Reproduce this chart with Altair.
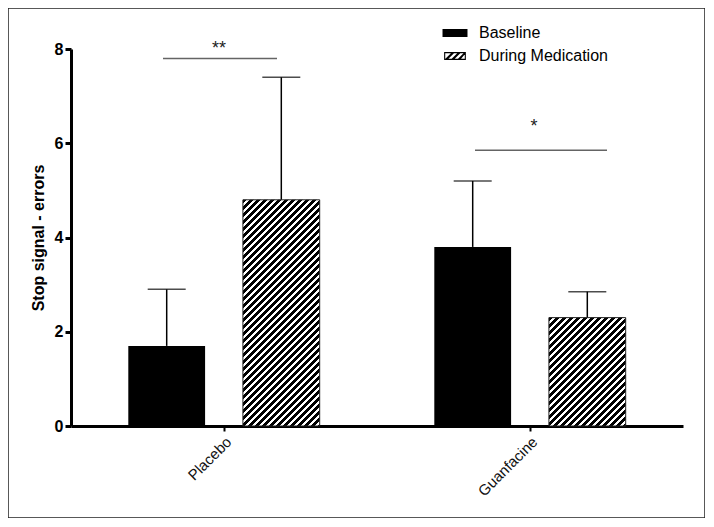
import altair as alt
import pandas as pd

groups = ["Placebo", "Guanfacine"]
series = ["Baseline", "During Medication"]
mean_baseline = [1.7, 3.8]
mean_during = [4.8, 2.3]
err_baseline = [1.2, 1.4]
err_during = [2.6, 0.55]
sig_labels = ["**", "*"]
sig_line_y = [7.8, 5.85]
sig_text_y = [7.99, 6.35]

rows = []
for i, g in enumerate(groups):
    rows.append({"group": g, "series": series[0], "value": mean_baseline[i],
                 "upper": mean_baseline[i] + err_baseline[i]})
    rows.append({"group": g, "series": series[1], "value": mean_during[i],
                 "upper": mean_during[i] + err_during[i]})
df = pd.DataFrame(rows)
sig_df = pd.DataFrame({"group": groups, "label": sig_labels,
                       "line_y": sig_line_y, "text_y": sig_text_y})

# layout (view = framed box)
W, H = 697, 510
Y_RANGE = [418, 41]
X_RANGE = [63, 675]
px_per_unit = (Y_RANGE[0] - Y_RANGE[1]) / 8.0
P_INNER, P_OUTER = 0.33, 0.5
band = (X_RANGE[1] - X_RANGE[0]) / len(groups)
step = band / (len(series) - P_INNER + 2 * P_OUTER)
bar_w = step * (1 - P_INNER)

def hatch(value, period=7.0):
    w = bar_w
    h = value * px_per_unit
    k = (w + h) / (w * w + h * h)
    n = (w + h) / period
    stops = []
    i = 0
    while i < n + 1:
        a = min(i / n, 1.0)
        b = min((i + 0.55) / n, 1.0)
        c = min((i + 1) / n, 1.0)
        stops += [{"offset": a, "color": "black"}, {"offset": b, "color": "black"},
                  {"offset": b, "color": "white"}, {"offset": c, "color": "white"}]
        i += 1
    return {"gradient": "linear", "x1": 0, "y1": 0, "x2": k * w, "y2": k * h,
            "stops": stops}

x_enc = alt.X("group:N", sort=groups, title=None,
              scale=alt.Scale(domain=groups, range=X_RANGE, paddingInner=0, paddingOuter=0),
              axis=alt.Axis(offset=-92, domainWidth=3, domainColor="black",
                            tickSize=5, tickWidth=2, tickColor="black",
                            labelAngle=-45, labelAlign="right", labelBaseline="top",
                            labelFont="Liberation Sans", labelFontSize=15,
                            labelColor="#111", labelPadding=3, grid=False))
xo_enc = alt.XOffset("series:N", sort=series,
                     scale=alt.Scale(domain=series, paddingInner=P_INNER, paddingOuter=P_OUTER))
y_scale = alt.Scale(domain=[0, 8], range=Y_RANGE, nice=False, zero=True)
y_axis = alt.Axis(values=[0, 2, 4, 6, 8], offset=-63, domainWidth=3, domainColor="black",
                  tickWidth=3, tickSize=6, tickColor="black",
                  labelFont="Liberation Sans", labelFontWeight="bold", labelFontSize=16,
                  labelColor="black", labelPadding=2, grid=False,
                  title="Stop signal - errors", titleFont="Liberation Sans",
                  titleFontWeight="bold", titleFontSize=16, titleColor="black",
                  titlePadding=8)
y_enc = alt.Y("value:Q", scale=y_scale, axis=y_axis)

base = alt.Chart(df)

sq = "M-1.15,-0.37H1.15V0.37H-1.15Z"
hatch_path = ("M-1.0,-0.37H1.0V0.37H-1.0Z"
              "M-0.9,-0.26V0.26H0.9V-0.26Z"
              "M-1.0,0.37L-0.26,-0.37H0.02L-0.72,0.37Z"
              "M-0.42,0.37L0.32,-0.37H0.6L-0.14,0.37Z"
              "M0.16,0.37L0.9,-0.37H1.0V-0.27L0.46,0.37Z")

legend_pts = base.mark_point(filled=True, color="black", opacity=0).encode(
    x=x_enc, xOffset=xo_enc, y=y_enc,
    shape=alt.Shape("series:N", sort=series,
                    scale=alt.Scale(domain=series, range=[sq, hatch_path]),
                    legend=alt.Legend(title=None, orient="none", legendX=436, legendY=14,
                                      symbolSize=472, symbolFillColor="black",
                                      symbolStrokeWidth=0, symbolOpacity=1,
                                      labelFont="Liberation Sans", labelFontSize=16,
                                      labelColor="black", labelOffset=13,
                                      rowPadding=4, padding=0)),
)

err_rule = base.mark_rule(color="black", strokeWidth=1.5).encode(
    x=x_enc, xOffset=xo_enc, y=y_enc, y2="upper:Q")
err_cap = base.mark_tick(color="black", thickness=1.5, size=38).encode(
    x=x_enc, xOffset=xo_enc, y=alt.Y("upper:Q", scale=y_scale, axis=y_axis))

bars_base = base.transform_filter(alt.datum.series == series[0]).mark_bar(
    color="black").encode(x=x_enc, xOffset=xo_enc, y=y_enc)

hatched = []
for i, g in enumerate(groups):
    hatched.append(
        base.transform_filter((alt.datum.series == series[1]) & (alt.datum.group == g))
        .mark_bar(fill=hatch(mean_during[i]), stroke="#222", strokeWidth=1)
        .encode(x=x_enc, xOffset=xo_enc, y=y_enc))

sig_base = alt.Chart(sig_df)
sig_lines = []
for g, sz, off in [(groups[0], 114, -4), (groups[1], 132, 11)]:
    sig_lines.append(
        sig_base.transform_filter(alt.datum.group == g)
        .mark_tick(color="#222", thickness=1.5, size=sz, xOffset=off)
        .encode(x=x_enc, y=alt.Y("line_y:Q", scale=y_scale, axis=y_axis)))
sig_text = []
for g, off in [(groups[0], -5), (groups[1], 4)]:
    sig_text.append(
        sig_base.transform_filter(alt.datum.group == g)
        .mark_text(font="Liberation Sans", fontSize=18, color="#222", xOffset=off,
                   baseline="middle")
        .encode(x=x_enc, y=alt.Y("text_y:Q", scale=y_scale, axis=y_axis), text="label:N"))

chart = alt.layer(legend_pts, err_rule, err_cap, bars_base, *hatched, *sig_lines, *sig_text).properties(
    width=W, height=H, padding=0, background="white"
).configure_view(stroke="#222", strokeWidth=1.5)

chart.save("out.html", embed_options={"renderer": "svg", "actions": False})
